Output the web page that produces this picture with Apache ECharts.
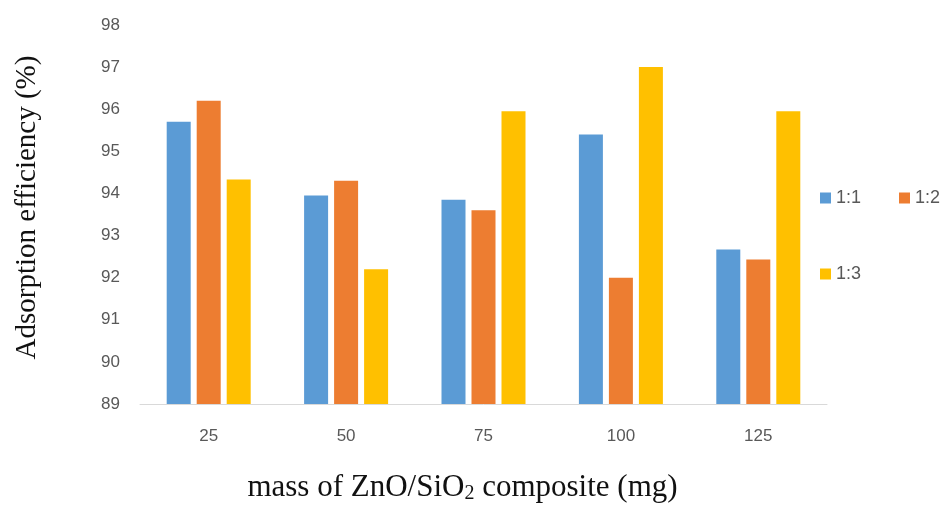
<!DOCTYPE html>
<html><head><meta charset="utf-8">
<script src="https://cdn.jsdelivr.net/npm/echarts@6/dist/echarts.min.js"></script>
<style>html,body{margin:0;padding:0;background:#fff}#c{width:952px;height:505px}</style>
</head><body><div id="c"></div>
<script>
const categories = ['25', '50', '75', '100', '125'];
const s11 = [95.7, 93.95, 93.85, 95.4, 92.67];
const s12 = [96.2, 94.3, 93.6, 92.0, 92.43];
const s13 = [94.33, 92.2, 95.95, 97.0, 95.95];
const yTicks = {min: 89, max: 98, interval: 1};

const chart = echarts.init(document.getElementById('c'));
const tickFont = {color: '#595959', fontSize: 17, fontFamily: 'Liberation Sans'};
const legendText = {color: '#595959', fontSize: 18, fontFamily: 'Liberation Sans'};
chart.setOption({
  animation: false,
  backgroundColor: '#fff',
  color: ['#5B9BD5', '#ED7D31', '#FFC000'],
  grid: {left: 140, right: 125, top: 25, bottom: 101, containLabel: false, outerBoundsMode: 'none'},
  legend: [
    {data: ['1:1', '1:2'], left: 815, top: 184, itemWidth: 11, itemHeight: 11, itemGap: 38, icon: 'rect',
     textStyle: legendText},
    {data: ['1:3'], left: 815, top: 260, itemWidth: 11, itemHeight: 11, icon: 'rect',
     textStyle: legendText}
  ],
  xAxis: {
    type: 'category', data: categories,
    axisLine: {lineStyle: {color: '#d9d9d9'}},
    axisTick: {show: false},
    axisLabel: Object.assign({margin: 24}, tickFont),
    name: 'mass of ZnO/SiO{sub|2} composite (mg)',
    nameLocation: 'middle', nameGap: 68,
    nameTextStyle: {color: '#111', fontSize: 31, fontFamily: 'Liberation Serif', padding: [0, 42, 0, 0],
      rich: {sub: {fontSize: 20, fontFamily: 'Liberation Serif', color: '#111', padding: [12, 0, 0, 0]}}}
  },
  yAxis: {
    type: 'value', min: yTicks.min, max: yTicks.max, interval: yTicks.interval,
    splitLine: {show: false},
    axisLine: {show: false}, axisTick: {show: false},
    axisLabel: Object.assign({margin: 20}, tickFont),
    name: 'Adsorption efficiency (%)', nameLocation: 'middle', nameGap: 98,
    nameTextStyle: {color: '#111', fontSize: 29, fontFamily: 'Liberation Serif', padding: [0, 0, 0, 14]}
  },
  series: [
    {name: '1:1', type: 'bar', data: s11, barWidth: 24, barGap: '25%'},
    {name: '1:2', type: 'bar', data: s12, barWidth: 24, barGap: '25%'},
    {name: '1:3', type: 'bar', data: s13, barWidth: 24, barGap: '25%'}
  ]
});
</script></body></html>
